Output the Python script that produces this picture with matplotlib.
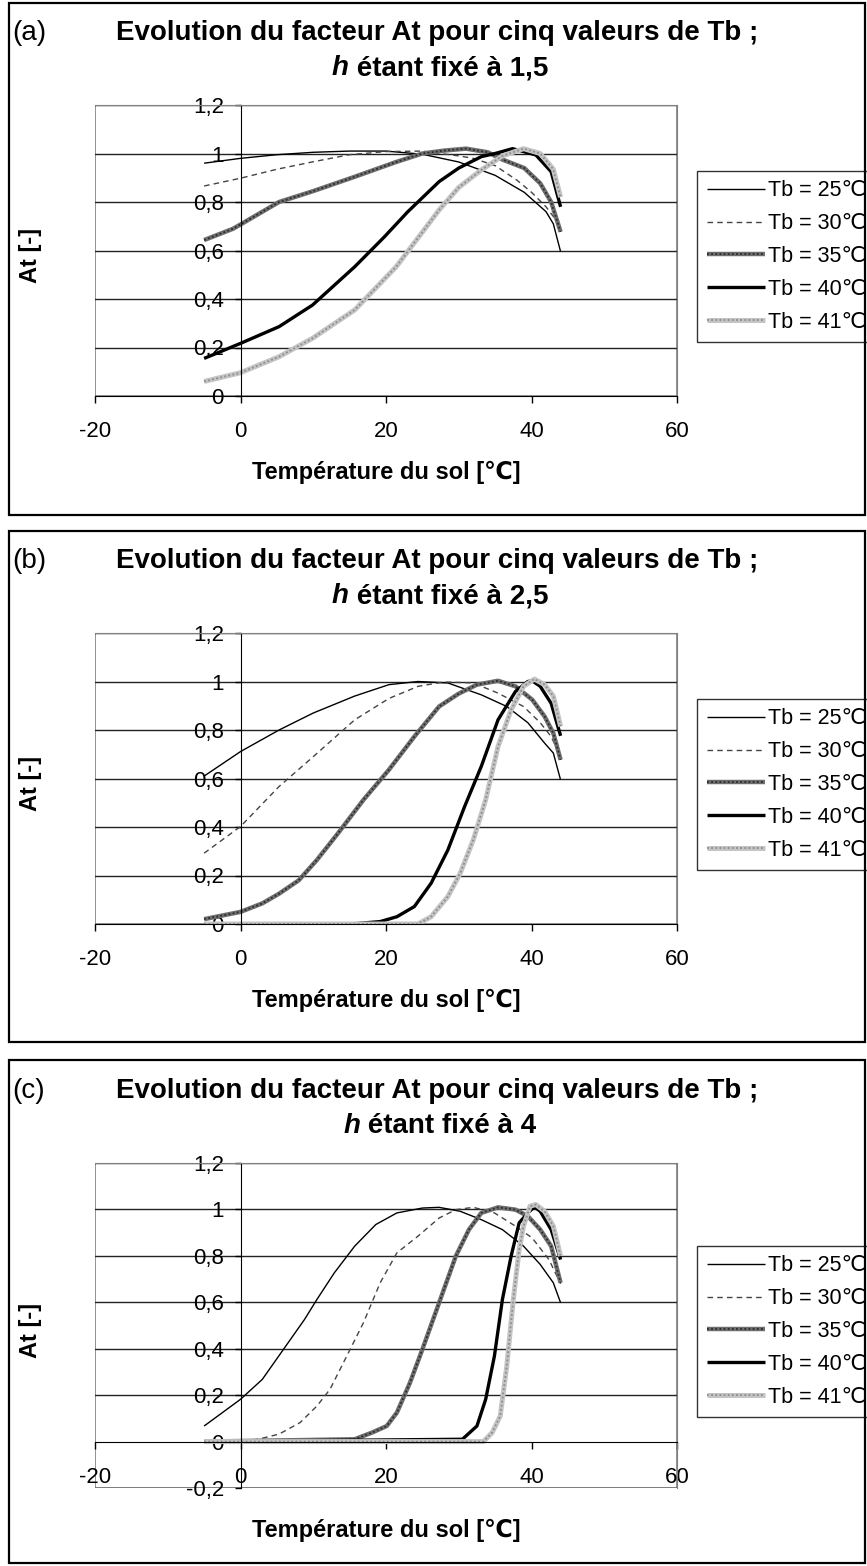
import matplotlib
matplotlib.use("Agg")
import matplotlib.pyplot as plt
from matplotlib.patches import Rectangle
from matplotlib.ticker import FuncFormatter
from matplotlib.legend_handler import HandlerTuple

# soil temperature (x) and At factor (y)
# panel (a) : h = 1.5
t_a25 = [-5, 0, 5, 10, 15, 20, 25, 30, 35, 39, 42, 43, 44]
at_a25 = [0.96, 0.98, 0.995, 1.005, 1.01, 1.01, 0.997, 0.965, 0.91, 0.84, 0.76, 0.71, 0.595]
t_a30 = [-5, 0, 5, 10, 15, 20, 25, 30, 32, 35, 38, 40, 42, 43.5, 44]
at_a30 = [0.866, 0.898, 0.935, 0.966, 0.995, 1.008, 1.01, 0.99, 0.98, 0.95, 0.89, 0.84, 0.78, 0.72, 0.68]
t_a35 = [-5, -1, 1.3, 5.3, 10, 15.7, 21.4, 25, 28, 31, 34, 36, 39, 41.2, 42.7, 44]
at_a35 = [0.643, 0.69, 0.73, 0.80, 0.845, 0.904, 0.965, 1.0, 1.012, 1.02, 1.005, 0.975, 0.94, 0.877, 0.80, 0.677]
t_a40 = [-5, 0, 5.3, 9.9, 15.7, 19.8, 23, 27.3, 30, 33.1, 35, 37.4, 40.6, 42.7, 44]
at_a40 = [0.155, 0.217, 0.286, 0.375, 0.533, 0.657, 0.76, 0.884, 0.94, 0.987, 1.0, 1.02, 0.994, 0.925, 0.78]
t_a41 = [-5, 0, 5.3, 9.9, 15.7, 21.4, 27.3, 30, 33.1, 36, 38.9, 41.2, 43, 44]
at_a41 = [0.06, 0.096, 0.162, 0.238, 0.355, 0.533, 0.767, 0.86, 0.932, 0.99, 1.02, 1.0, 0.935, 0.82]

# panel (b) : h = 2.5
t_b25 = [-5, 0, 5.3, 10, 15.7, 20.4, 24.4, 28.5, 33.1, 36.6, 39.5, 41.8, 43, 44]
at_b25 = [0.61, 0.711, 0.80, 0.87, 0.94, 0.987, 1.0, 0.994, 0.945, 0.897, 0.83, 0.746, 0.705, 0.594]
t_b30 = [-5, 0, 5.3, 10, 15.7, 20.4, 24.4, 27.9, 32, 35.4, 38.9, 41.2, 42.7, 44]
at_b30 = [0.292, 0.402, 0.567, 0.69, 0.842, 0.93, 0.98, 0.998, 0.994, 0.952, 0.897, 0.83, 0.773, 0.69]
t_b35 = [-5, 0, 3, 5.3, 8, 10.5, 13.4, 16.9, 20.4, 23.9, 27.3, 30, 32.5, 35.4, 37.8, 40.1, 41.8, 43, 44]
at_b35 = [0.02, 0.05, 0.085, 0.125, 0.18, 0.264, 0.374, 0.512, 0.636, 0.773, 0.897, 0.95, 0.987, 1.003,
          0.98, 0.925, 0.856, 0.787, 0.677]
t_b40 = [-5, 15.2, 19.2, 21.5, 23.9, 26.2, 28.5, 30.8, 33.1, 35.4, 37.8, 39.5, 40.1, 41.2, 42.7, 44]
at_b40 = [0, 0, 0.01, 0.03, 0.072, 0.168, 0.305, 0.484, 0.65, 0.842, 0.959, 1.0, 1.003, 0.98, 0.91, 0.776]
t_b41 = [-5, 24.4, 26.2, 28.5, 30.2, 32, 33.7, 35.4, 37.2, 38.9, 40.4, 41.8, 43, 44]
at_b41 = [0, 0, 0.03, 0.113, 0.209, 0.347, 0.512, 0.732, 0.883, 0.98, 1.01, 0.987, 0.94, 0.815]

# panel (c) : h = 4
t_c25 = [-5, 0, 3, 5.9, 8.8, 10.5, 12.9, 15.7, 18.6, 21.5, 25, 27.3, 30.2, 33.1, 36, 38.9, 41.2, 43, 44]
at_c25 = [0.067, 0.182, 0.268, 0.397, 0.526, 0.612, 0.727, 0.842, 0.935, 0.985, 1.006, 1.009, 0.992,
          0.956, 0.913, 0.842, 0.763, 0.684, 0.598]
t_c30 = [-5, 0, 2.4, 5.3, 8.2, 10.5, 12.3, 14.6, 16.9, 19.2, 21.5, 24.4, 27.3, 29.6, 32, 34.9, 37.8,
         40.1, 42.4, 44]
at_c30 = [0, 0, 0.01, 0.032, 0.082, 0.153, 0.225, 0.368, 0.512, 0.684, 0.813, 0.885, 0.963, 0.999,
          1.009, 0.985, 0.928, 0.877, 0.784, 0.68]
t_c35 = [-5, 15.7, 18.1, 20.1, 21.5, 23.3, 25, 27.3, 29.6, 31.4, 33.1, 35.4, 37.8, 39.5, 41.2, 42.7, 44]
at_c35 = [0, 0.01, 0.039, 0.067, 0.125, 0.254, 0.397, 0.598, 0.799, 0.913, 0.985, 1.009, 0.999, 0.971,
          0.913, 0.842, 0.684]
t_c40 = [-5, 30.5, 32.5, 33.7, 34.9, 36, 37.2, 38.3, 39.5, 40.4, 41.2, 42.7, 44]
at_c40 = [0, 0.01, 0.067, 0.182, 0.368, 0.612, 0.799, 0.942, 0.985, 1.011, 0.992, 0.913, 0.784]
t_c41 = [-5, 33.4, 34.6, 35.7, 36.6, 37.5, 38.3, 38.9, 39.8, 40.6, 41.8, 43, 44]
at_c41 = [0, 0, 0.039, 0.11, 0.325, 0.612, 0.827, 0.928, 1.014, 1.021, 0.992, 0.928, 0.799]

labels = ["Tb = 25\u2103", "Tb = 30\u2103", "Tb = 35\u2103", "Tb = 40\u2103", "Tb = 41\u2103"]
panel_tags = ["(a)", "(b)", "(c)"]
h_values = ["1,5", "2,5", "4"]
x_ticks = [-20, 0, 20, 40, 60]

W, H = 867, 1566
plt.rcParams["font.family"] = ["Liberation Sans", "DejaVu Sans"]

# (base line, optional texture drawn on top)
styles = [
    (dict(color="black", lw=1.0), None),
    (dict(color="#444444", lw=1.0, dashes=(4, 3)), None),
    (dict(color="#6e6e6e", lw=3.2), dict(color="#2a2a2a", lw=1.3, dashes=(1, 1.3))),
    (dict(color="black", lw=2.4), None),
    (dict(color="#c4c4c4", lw=3.6), dict(color="#8c8c8c", lw=1.3, dashes=(1, 1.3))),
]


def fx(x):
    return x / W


def fy(y):
    return 1 - y / H


def comma(v, pos):
    return ("%g" % round(v, 1)).replace(".", ",")


def title_line2(fig, cx, y, h):
    # italic bold "h" followed by bold text, centred as one line
    t1 = fig.text(0, fy(y), "h", fontsize=20, fontweight="bold", style="italic",
                  ha="left", va="center")
    t2 = fig.text(0, fy(y), " étant fixé à " + h, fontsize=20, fontweight="bold",
                  ha="left", va="center")
    r = fig.canvas.get_renderer()
    w1 = t1.get_window_extent(r).width
    w2 = t2.get_window_extent(r).width
    x0 = cx - (w1 + w2) / 2
    t1.set_x(fx(x0))
    t2.set_x(fx(x0 + w1))


def draw_panel(fig, series, tag, h, top, bottom, ptop, pbot, ymin):
    # frame around the whole chart
    fig.patches.append(Rectangle((fx(9), fy(bottom)), fx(856), (bottom - top) / H,
                                 transform=fig.transFigure, fill=False,
                                 edgecolor="black", lw=1.6))
    ax = fig.add_axes([fx(95), fy(pbot), fx(582), (pbot - ptop) / H])
    handles = []
    for (t, a), (base, tex) in zip(series, styles):
        l1, = ax.plot(t, a, solid_capstyle="butt", **base)
        if tex is not None:
            l2, = ax.plot(t, a, **tex)
            handles.append((l1, l2))
        else:
            handles.append(l1)

    ax.set_xlim(-20, 60)
    ax.set_ylim(ymin, 1.2)
    ax.set_xticks(x_ticks)
    yt = [v / 10 for v in range(int(round(ymin * 10)), 13, 2)]
    ax.set_yticks(yt)
    ax.xaxis.set_major_formatter(FuncFormatter(comma))
    ax.yaxis.set_major_formatter(FuncFormatter(comma))
    for v in yt:
        if abs(v) > 1e-9:
            ax.axhline(v, color="#222222", lw=1.0, zorder=0.5)

    ax.spines["left"].set_position(("data", 0))
    ax.spines["bottom"].set_position(("data", 0))
    ax.spines["left"].set_color("black")
    ax.spines["bottom"].set_color("black")
    for s in ["top", "right"]:
        ax.spines[s].set_color("#808080")
    ax.add_patch(Rectangle((0, 0), 1, 1, transform=ax.transAxes, fill=False,
                           edgecolor="#808080", lw=1.2, zorder=0.4))
    ax.tick_params(axis="x", direction="out", length=5, width=1, pad=13, labelsize=16)
    ax.tick_params(axis="y", direction="out", length=4, width=1, pad=8, labelsize=16)

    fig.text(fx(386), fy(ptop + 367), "Température du sol [\u2103]", fontsize=17,
             fontweight="bold", ha="center", va="center")
    fig.text(fx(31), fy((ptop + pbot) / 2 + 5), "At [-]", fontsize=17, fontweight="bold",
             rotation=90, ha="center", va="center")

    fig.text(fx(12), fy(ptop - 72), tag, fontsize=20, ha="left", va="center")
    fig.text(fx(437), fy(ptop - 72), "Evolution du facteur At pour cinq valeurs de Tb ;",
             fontsize=20, fontweight="bold", ha="center", va="center")
    title_line2(fig, 440, ptop - 37, h)

    leg = ax.legend(handles, labels,
                    handler_map={tuple: HandlerTuple(ndivide=1, pad=0)},
                    loc="center left",
                    bbox_to_anchor=((697 - 95) / 582, 0.5 - 6 / (pbot - ptop)),
                    frameon=True, fancybox=False, edgecolor="black", fontsize=15.5,
                    handlelength=2.7, handletextpad=0.15, labelspacing=0.55,
                    borderpad=0.45, borderaxespad=0)
    leg.get_frame().set_linewidth(1.0)
    return ax


fig = plt.figure(figsize=(W / 100, H / 100), dpi=100)

series_a = [(t_a25, at_a25), (t_a30, at_a30), (t_a35, at_a35), (t_a40, at_a40), (t_a41, at_a41)]
series_b = [(t_b25, at_b25), (t_b30, at_b30), (t_b35, at_b35), (t_b40, at_b40), (t_b41, at_b41)]
series_c = [(t_c25, at_c25), (t_c30, at_c30), (t_c35, at_c35), (t_c40, at_c40), (t_c41, at_c41)]

draw_panel(fig, series_a, panel_tags[0], h_values[0], 3, 515, 105, 396, 0)
draw_panel(fig, series_b, panel_tags[1], h_values[1], 531, 1042, 633, 924, 0)
draw_panel(fig, series_c, panel_tags[2], h_values[2], 1060, 1563, 1163, 1488, -0.2)

fig.savefig("out.png", dpi=100)
